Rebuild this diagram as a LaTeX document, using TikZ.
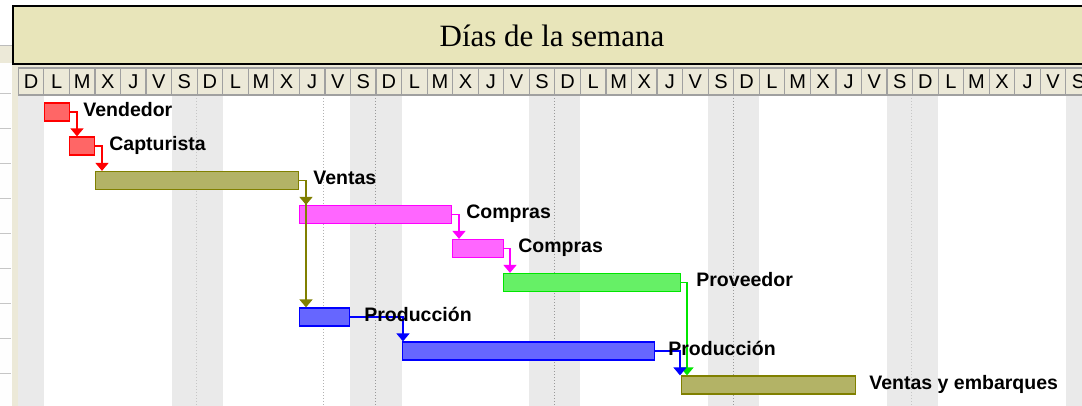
\documentclass[tikz,border=0pt]{standalone}
\usepackage{fontspec}
\setmainfont{Liberation Serif}
\setsansfont{Liberation Sans}
\usetikzlibrary{positioning,arrows.meta}

\definecolor{panel}{RGB}{236,233,216}
\definecolor{khaki}{RGB}{232,229,186}
\definecolor{cellline}{RGB}{160,160,160}
\definecolor{weekend}{RGB}{234,234,234}
\definecolor{olivebar}{RGB}{128,128,0}
\definecolor{pinkbar}{RGB}{255,0,255}
\definecolor{redbar}{RGB}{255,0,0}
\definecolor{greenbar}{RGB}{0,230,0}
\definecolor{bluebar}{RGB}{0,0,255}

\tikzset{
  bar/.style={draw=#1, line width=1.2pt, fill=#1!60, minimum height=18pt, inner sep=0pt, anchor=west},
  link/.style={draw=#1, line width=1.5pt, -{Triangle[width=13pt,length=8pt]}},
  lbl/.style={font=\sffamily\bfseries\fontsize{19.5}{19.5}\selectfont, inner sep=0pt, anchor=base west},
  daycell/.style={draw=cellline, line width=1.2pt, fill=panel, minimum width=25.55pt, minimum height=27pt, inner sep=0pt,
    font=\sffamily\fontsize{20}{20}\selectfont}
}

\begin{document}
\begin{tikzpicture}[x=1pt, y=-1pt]
  \useasboundingbox (0,0) rectangle (1082,406);
  \clip (0,0) rectangle (1082,406);

  % left panel
  \fill[panel] (0,45) rectangle (18,406);
  \fill[white!97!panel] (0,63) rectangle (12,406);
  \foreach \r in {0,...,8}
    \draw[cellline!60, line width=0.8pt] (0,93+35*\r) -- (11,93+35*\r);
  \draw[cellline!70, line width=0.8pt] (0,45) -- (12,45);

  % chart area and weekends
  \fill[white] (18,95) rectangle (1082,406);
  \foreach \w in {0,...,5} {
    \fill[weekend] (18.3+25.55*7*\w,95) rectangle ++(25.55,311);
    \fill[weekend] (18.3+25.55*7*\w+25.55*6,95) rectangle ++(25.55,311);
  }
  \foreach \x in {196.9,911.4}
    \draw[gray!45, dotted, line width=1pt] (\x,95) -- (\x,406);
  \foreach \x in {375.6,554.5,733.3}
    \draw[gray!80, dotted, line width=1pt] (\x,95) -- (\x,406);
  \draw[gray!60, dotted, line width=1pt] (323,95) -- (323,406);

  % day header
  \fill[panel] (18,63) rectangle (1082,68);
  \foreach \w in {0,...,5}
    \foreach \d [count=\k from 0] in {D,L,M,X,J,V,S}
      \node[daycell] (day-\w-\k) at (18.3+25.55*7*\w+25.55*\k+12.775,81.5) {\d};

  % title
  \node[draw=black, line width=2pt, fill=khaki, minimum width=1090pt, minimum height=58pt, anchor=north west,
        inner sep=0pt] (title) at (12,5) {};
  \node[font=\fontsize{31}{31}\selectfont, inner sep=0pt] (ttxt) at (552,36) {Días de la semana};

  % tasks
  \node[bar=redbar, minimum width=25pt] (vend) at (44,112) {};
  \node[bar=redbar, minimum width=25pt] (capt) at (69,146) {};
  \node[bar=olivebar, minimum width=203pt] (vent) at (95,180.5) {};
  \node[bar=pinkbar, minimum width=152pt] (comA) at (299,214.5) {};
  \node[bar=pinkbar, minimum width=51pt] (comB) at (452,248.5) {};
  \node[bar=greenbar, minimum width=177pt] (prov) at (503,282.5) {};
  \node[bar=bluebar, minimum width=50pt] (proA) at (299,317) {};
  \node[bar=bluebar, minimum width=252pt] (proB) at (402,351) {};
  \node[bar=olivebar, minimum width=174pt] (vye) at (681,385) {};

  % links
  \draw[link=redbar] (vend.east) -| ([xshift=8pt]capt.north west);
  \draw[link=redbar] (capt.east) -| ([xshift=7pt]vent.north west);
  \draw[link=olivebar] (vent.east) -| ([xshift=7pt]proA.north west);
  \draw[link=olivebar] (vent.east) -| ([xshift=7pt]comA.north west);
  \draw[link=pinkbar] (comA.east) -| ([xshift=7pt]comB.north west);
  \draw[link=pinkbar] (comB.east) -| ([xshift=7pt]prov.north west);
  \draw[link=bluebar] (proA.east) -| ([xshift=1pt]proB.north west);
  \draw[link=greenbar] (prov.east) -| ([xshift=6pt]vye.north west);
  \draw[link=bluebar] (proB.east) -| ([xshift=-1pt]vye.north west);

  % labels
  \node[lbl] (lvend) at ([xshift=13pt,yshift=-4.5pt]vend.east) {Vendedor};
  \node[lbl] (lcapt) at ([xshift=14pt,yshift=-4.5pt]capt.east) {Capturista};
  \node[lbl] (lvent) at ([xshift=14pt,yshift=-4.5pt]vent.east) {Ventas};
  \node[lbl] (lcomA) at ([xshift=14pt,yshift=-4.5pt]comA.east) {Compras};
  \node[lbl] (lcomB) at ([xshift=14pt,yshift=-4.5pt]comB.east) {Compras};
  \node[lbl] (lprov) at ([xshift=15pt,yshift=-4.5pt]prov.east) {Proveedor};
  \node[lbl] (lproA) at ([xshift=14pt,yshift=-4.5pt]proA.east) {Producción};
  \node[lbl] (lproB) at ([xshift=13pt,yshift=-4.5pt]proB.east) {Producción};
  \node[lbl] (lvye) at ([xshift=13pt,yshift=-4.5pt]vye.east) {Ventas y embarques};
\end{tikzpicture}
\end{document}
